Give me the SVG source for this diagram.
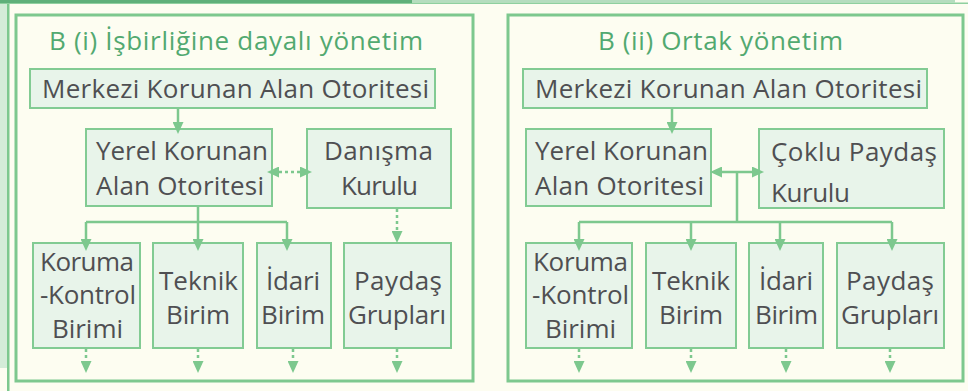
<svg xmlns="http://www.w3.org/2000/svg" width="968" height="391" viewBox="0 0 968 391">
<style>
.bg{fill:#fdfdf1}
.panel{fill:none;stroke:#7dc88e;stroke-width:3}
.box{fill:#e8f4ea;stroke:#82cb93;stroke-width:2}
.t{font-family:"Open Sans","Noto Sans","Liberation Sans",sans-serif;font-size:26px;fill:#4f4f52;text-anchor:middle}
.ts{text-anchor:start}
.title{font-family:"Open Sans","Noto Sans","Liberation Sans",sans-serif;font-size:26px;fill:#52a970;text-anchor:middle}
.c{fill:none;stroke:#7dc88e;stroke-width:2.5}
.d{stroke-dasharray:3 3}
.a{marker-end:url(#ah)}
.b{marker-start:url(#ah);marker-end:url(#ah)}
</style>
<defs>
<marker id="ah" viewBox="0 0 12 11" refX="6" refY="5.5" markerWidth="12" markerHeight="11" markerUnits="userSpaceOnUse" orient="auto-start-reverse">
<path d="M0,0L12,5.5L0,11z" fill="#7dc88e"/>
</marker>
</defs>
<rect class="bg" x="0" y="0" width="968" height="391"/>
<g id="decor">
<rect x="0" y="0" width="7" height="368" fill="#d4ecd8"/>
<rect x="7" y="0" width="2.5" height="391" fill="#7dc88e"/>
<rect x="412" y="0" width="543" height="2.5" fill="#b5ddbf"/>
<rect x="0" y="2.5" width="968" height="1.5" fill="#8fd09f"/>
<rect x="0" y="0" width="412" height="3" fill="#5fb07a"/>
</g>
<g id="panel-left">
<rect class="panel" x="16" y="15" width="457" height="366"/>
<text class="title" x="236" y="50" textLength="374" lengthAdjust="spacing">B (i) İşbirliğine dayalı yönetim</text>
</g>
<g id="panel-right">
<rect class="panel" x="508" y="15" width="455" height="366"/>
<text class="title" x="720.5" y="50" textLength="245" lengthAdjust="spacing">B (ii) Ortak yönetim</text>
</g>
<g id="l-merkezi"><rect class="box" x="30" y="69" width="405" height="39"/>
<text class="t" x="235.5" y="98" textLength="387" lengthAdjust="spacing">Merkezi Korunan Alan Otoritesi</text></g>
<g id="l-yerel"><rect class="box" x="86" y="129" width="186" height="77"/>
<text class="t" x="182" y="160" textLength="172" lengthAdjust="spacing">Yerel Korunan</text>
<text class="t" x="180" y="195" textLength="168" lengthAdjust="spacing">Alan Otoritesi</text></g>
<g id="l-danisma"><rect class="box" x="307" y="129" width="144" height="79"/>
<text class="t" x="378.5" y="160" textLength="109" lengthAdjust="spacing">Danışma</text>
<text class="t" x="379.5" y="195" textLength="77" lengthAdjust="spacing">Kurulu</text></g>
<g id="l-koruma"><rect class="box" x="33" y="243" width="107" height="105"/>
<text class="t" x="87" y="271" textLength="94" lengthAdjust="spacing">Koruma</text>
<text class="t" x="88" y="304" textLength="96" lengthAdjust="spacing">-Kontrol</text>
<text class="t" x="87.5" y="338" textLength="71" lengthAdjust="spacing">Birimi</text></g>
<g id="l-teknik"><rect class="box" x="153" y="243" width="90" height="105"/>
<text class="t" x="198.5" y="290" textLength="79" lengthAdjust="spacing">Teknik</text>
<text class="t" x="198" y="324" textLength="64" lengthAdjust="spacing">Birim</text></g>
<g id="l-idari"><rect class="box" x="257" y="243" width="74" height="105"/>
<text class="t" x="293" y="290" textLength="54" lengthAdjust="spacing">İdari</text>
<text class="t" x="293" y="324" textLength="64" lengthAdjust="spacing">Birim</text></g>
<g id="l-paydas"><rect class="box" x="344" y="243" width="107" height="105"/>
<text class="t" x="398" y="290" textLength="88" lengthAdjust="spacing">Paydaş</text>
<text class="t" x="397" y="324" textLength="98" lengthAdjust="spacing">Grupları</text></g>
<g id="r-merkezi"><rect class="box" x="523" y="69" width="404" height="39"/>
<text class="t" x="728.5" y="98" textLength="387" lengthAdjust="spacing">Merkezi Korunan Alan Otoritesi</text></g>
<g id="r-yerel"><rect class="box" x="526" y="129" width="185" height="77"/>
<text class="t" x="621.5" y="160" textLength="173" lengthAdjust="spacing">Yerel Korunan</text>
<text class="t" x="619.5" y="195" textLength="169" lengthAdjust="spacing">Alan Otoritesi</text></g>
<g id="r-coklu"><rect class="box" x="759" y="129" width="185" height="79"/>
<text class="t ts" x="771" y="161" textLength="166" lengthAdjust="spacing">Çoklu Paydaş</text>
<text class="t ts" x="771" y="202" textLength="79" lengthAdjust="spacing">Kurulu</text></g>
<g id="r-koruma"><rect class="box" x="526" y="243" width="106" height="105"/>
<text class="t" x="580.5" y="271" textLength="95" lengthAdjust="spacing">Koruma</text>
<text class="t" x="580.5" y="304" textLength="97" lengthAdjust="spacing">-Kontrol</text>
<text class="t" x="580.5" y="338" textLength="71" lengthAdjust="spacing">Birimi</text></g>
<g id="r-teknik"><rect class="box" x="646" y="243" width="90" height="105"/>
<text class="t" x="691" y="290" textLength="78" lengthAdjust="spacing">Teknik</text>
<text class="t" x="691" y="324" textLength="64" lengthAdjust="spacing">Birim</text></g>
<g id="r-idari"><rect class="box" x="749" y="243" width="74" height="105"/>
<text class="t" x="786" y="290" textLength="54" lengthAdjust="spacing">İdari</text>
<text class="t" x="786.5" y="324" textLength="63" lengthAdjust="spacing">Birim</text></g>
<g id="r-paydas"><rect class="box" x="837" y="243" width="107" height="105"/>
<text class="t" x="890" y="290" textLength="88" lengthAdjust="spacing">Paydaş</text>
<text class="t" x="890" y="324" textLength="98" lengthAdjust="spacing">Grupları</text></g>
<g id="connectors">
<path class="c a" d="M178,109V128"/>
<path class="c d b" d="M273,172H306"/>
<path class="c" d="M198,207V222M86,222H287"/>
<path class="c a" d="M86,222V245"/>
<path class="c a" d="M198,222V245"/>
<path class="c a" d="M287,222V245"/>
<path class="c d a" d="M397,209V237"/>
<path class="c d a" d="M86,349V367"/>
<path class="c d a" d="M198,349V367"/>
<path class="c d a" d="M293,349V367"/>
<path class="c d a" d="M397,349V367"/>
<path class="c a" d="M672,109V128"/>
<path class="c b" d="M716,172H758"/>
<path class="c" d="M737,172V222M579,222H892"/>
<path class="c a" d="M579,222V245"/>
<path class="c a" d="M691,222V245"/>
<path class="c a" d="M780,222V245"/>
<path class="c a" d="M892,222V245"/>
<path class="c d a" d="M579,349V367"/>
<path class="c d a" d="M691,349V367"/>
<path class="c d a" d="M786,349V367"/>
<path class="c d a" d="M890,349V367"/>
</g>
</svg>
